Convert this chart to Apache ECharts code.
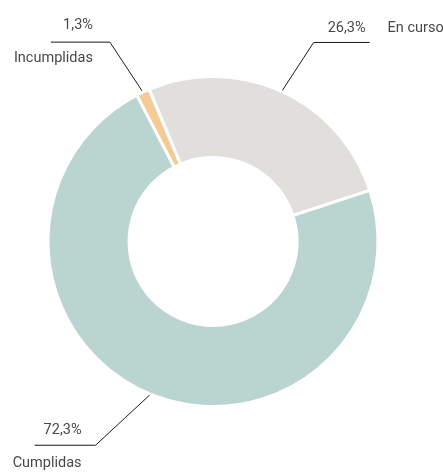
<!DOCTYPE html>
<html>
<head>
<meta charset="utf-8">
<script src="https://cdn.jsdelivr.net/npm/echarts@6/dist/echarts.min.js"></script>
<style>
  html, body { margin: 0; padding: 0; background: #fff; }
  #chart { width: 443px; height: 473px; }
</style>
</head>
<body>
<div id="chart"></div>
<script>
// datos
const categories = ['En curso', 'Cumplidas', 'Incumplidas']
const values = [26.3, 72.3, 1.3]
const pctLabels = ['26,3%', '72,3%', '1,3%']
const colors = ['#e0dfdc', '#bad4cf', '#f4cb95']

// leader lines: elbow offset from slice edge, horizontal length
const leaders = [
  { dx: 32, dy: -49, len: 56 },
  { dx: -55, dy: 51, len: 61 },
  { dx: -33, dy: -50, len: 59 },
]

const chart = echarts.init(document.getElementById('chart'))

const textBase = {
  fontFamily: 'Roboto',
  fontSize: 14.5,
  color: '#484848',
}

chart.setOption({
  animation: false,
  series: [{
    type: 'pie',
    center: [213, 241.5],
    radius: [84, 165],
    startAngle: 112.8,
    clockwise: true,
    avoidLabelOverlap: false,
    itemStyle: { borderColor: '#fff', borderWidth: 3 },
    label: {
      show: true,
      position: 'outside',
      ...textBase,
      formatter: p => p.dataIndex === 0
        ? '{p|' + pctLabels[0] + '}{m|' + p.name + '}'
        : '{p|' + pctLabels[p.dataIndex] + '}\n{n|' + p.name + '}',
      rich: {
        p: { ...textBase, lineHeight: 33 },
        n: { ...textBase, lineHeight: 33 },
        m: { ...textBase, lineHeight: 33, padding: [0, 0, 0, 22] },
      },
    },
    labelLine: {
      show: true,
      length: 10,
      length2: 10,
      lineStyle: { color: '#1a1a1a', width: 1 },
    },
    labelLayout: function (params) {
      const i = params.dataIndex
      const ld = leaders[i]
      const s = params.labelLinePoints[0]
      const e = [s[0] + ld.dx, s[1] + ld.dy]
      const dir = ld.dx > 0 ? 1 : -1
      const f = [e[0] + dir * ld.len, e[1]]
      if (i === 0) {
        return {
          x: f[0] - 42,
          y: e[1] - 14,
          align: 'left',
          verticalAlign: 'middle',
          labelLinePoints: [s, e, f],
        }
      }
      return {
        x: e[0] - (i === 2 ? 17 : 14),
        y: e[1] + (i === 2 ? 0 : 2),
        align: 'right',
        verticalAlign: 'middle',
        labelLinePoints: [s, e, f],
      }
    },
    data: categories.map((c, i) => ({
      name: c,
      value: values[i],
      itemStyle: { color: colors[i] },
    })),
  }],
})
</script>
</body>
</html>
